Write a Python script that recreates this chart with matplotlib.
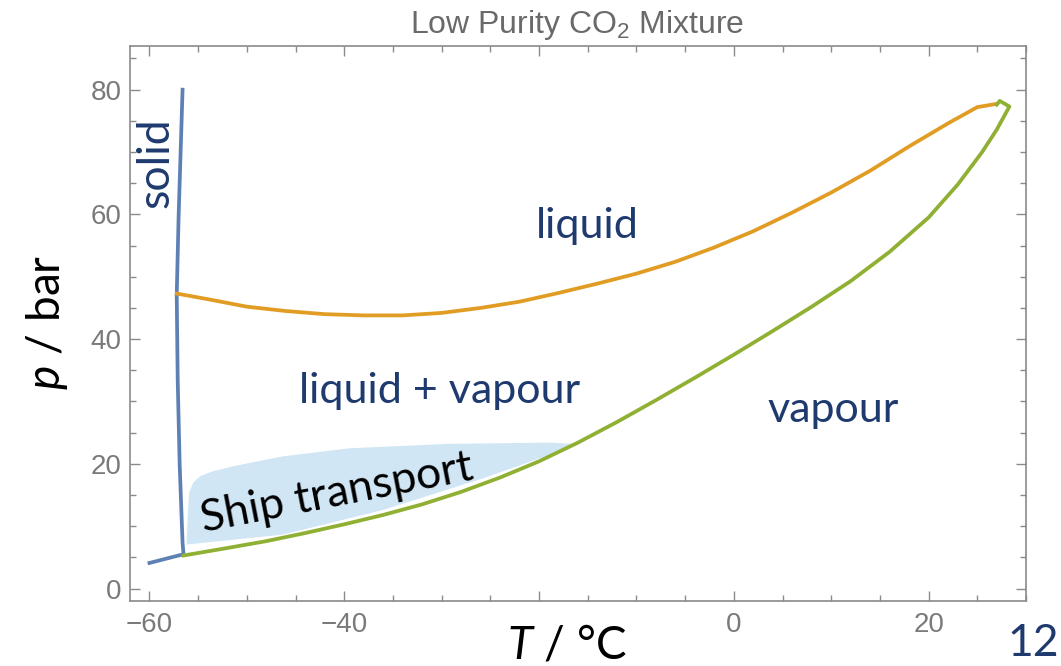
import matplotlib
matplotlib.use("Agg")
import matplotlib.pyplot as plt
from matplotlib.ticker import MultipleLocator

# ---- data ----
solid_T = [-60.0, -56.5, -56.6, -56.9, -57.1, -57.2, -57.0, -56.8, -56.6]
solid_p = [4.1, 5.5, 7.3, 20.0, 33.5, 47.1, 60.0, 70.0, 80.0]

liquid_T = [-57.2, -54, -50, -46, -42, -38, -34, -30, -26, -22, -18, -14, -10,
            -6, -2, 2, 6, 10, 14, 18, 22, 25, 26.9]
liquid_p = [47.3, 46.4, 45.2, 44.5, 44.0, 43.8, 43.8, 44.2, 45.0, 46.0, 47.4, 48.9,
            50.5, 52.4, 54.7, 57.3, 60.3, 63.5, 67.0, 70.9, 74.6, 77.2, 77.7]

vapour_T = [-56.5, -52, -48, -44, -40, -36, -32, -28, -24, -20, -16, -12, -8, -4,
            0, 4, 8, 12, 16, 20, 23, 25.5, 27.0, 28.3, 27.3, 27.0]
vapour_p = [5.3, 6.5, 7.6, 8.9, 10.3, 11.8, 13.5, 15.5, 17.8, 20.4, 23.4, 26.7,
            30.2, 33.8, 37.5, 41.3, 45.2, 49.3, 54.0, 59.5, 64.8, 70.0, 73.6,
            77.3, 78.2, 77.6]

ship_T = [-56.2, -56.0, -55.9, -55.5, -54.8, -53.5, -51.4, -46.3, -39.4, -29.2,
          -18.9, -16.5, -17.9, -25.7, -36.0, -46.3, -56.2]
ship_p = [7.05, 13.7, 15.5, 17.0, 18.0, 18.8, 19.6, 21.2, 22.5, 23.2,
          23.4, 23.2, 22.0, 17.7, 12.6, 8.65, 7.05]

x_ticks = [-60, -40, -20, 0, 20]
x_tick_labels = ['\u221260', '\u221240', '', '0', '20']
y_ticks = [0, 20, 40, 60, 80]

# ---- style ----
plt.rcParams['mathtext.fontset'] = 'custom'
plt.rcParams['mathtext.rm'] = 'Liberation Sans'
plt.rcParams['mathtext.it'] = 'Lato:italic'

BLUE = '#5E81B5'
ORANGE = '#E19C24'
GREEN = '#8FB032'
NAVY = '#1F3A6E'
GRAY = '#7a7a7a'
FRAME = '#8a8a8a'

fig = plt.figure(figsize=(10.61, 6.66), dpi=100)
ax = fig.add_axes([0.1225, 0.0976, 0.967 - 0.1225, 0.9309 - 0.0976])

ax.fill(ship_T, ship_p, color='#D0E6F4', lw=0, zorder=1)
ax.plot(solid_T, solid_p, color=BLUE, lw=2.7, zorder=3, solid_joinstyle='round')
ax.plot(liquid_T, liquid_p, color=ORANGE, lw=2.7, zorder=3, solid_joinstyle='round')
ax.plot(vapour_T, vapour_p, color=GREEN, lw=2.7, zorder=3, solid_joinstyle='round')

ax.set_xlim(-62, 30)
ax.set_ylim(-2, 87)

ax.set_xticks(x_ticks)
ax.set_xticklabels(x_tick_labels)
ax.set_yticks(y_ticks)
ax.xaxis.set_minor_locator(MultipleLocator(5))
ax.yaxis.set_minor_locator(MultipleLocator(5))
ax.tick_params(which='both', direction='in', top=True, right=True, color=FRAME,
               width=1.0)
ax.tick_params(which='major', length=7, labelsize=20, labelcolor=GRAY)
ax.tick_params(which='minor', length=4)
ax.tick_params(axis='x', pad=8)
ax.tick_params(axis='y', pad=6)
for lab in ax.get_xticklabels() + ax.get_yticklabels():
    lab.set_family('Liberation Sans')
for s in ax.spines.values():
    s.set_color(FRAME)
    s.set_linewidth(1.2)

fig.text(0.544, 0.963, r'Low Purity CO$_2$ Mixture', ha='center', va='center',
         fontsize=23, color='#6a6a6a', family='Liberation Sans')

fig.text(0.044, 0.516, r'$p$ / bar', rotation=90, ha='center', va='center',
         fontsize=33, color='black', family='Lato')
fig.text(0.534, 0.031, r'$T$ / ' + '\u00b0C', ha='center', va='center',
         fontsize=33, color='black', family='Lato')
fig.text(0.974, 0.034, '12', ha='center', va='center', fontsize=32, color=NAVY,
         family='Lato')

lab_kw = dict(color=NAVY, family='Lato', ha='center', va='center', zorder=4)
ax.text(-59.3, 68.3, 'solid', rotation=90, fontsize=32, **lab_kw)
ax.text(-15.0, 58.2, 'liquid', fontsize=31, **lab_kw)
ax.text(-30.2, 31.6, 'liquid + vapour', fontsize=31, **lab_kw)
ax.text(10.2, 28.7, 'vapour', fontsize=31, **lab_kw)
ax.text(-40.7, 15.3, 'Ship transport', rotation=11, fontsize=32, color='black',
        family='Lato', ha='center', va='center', zorder=4)

fig.savefig('out.png', dpi=100)
